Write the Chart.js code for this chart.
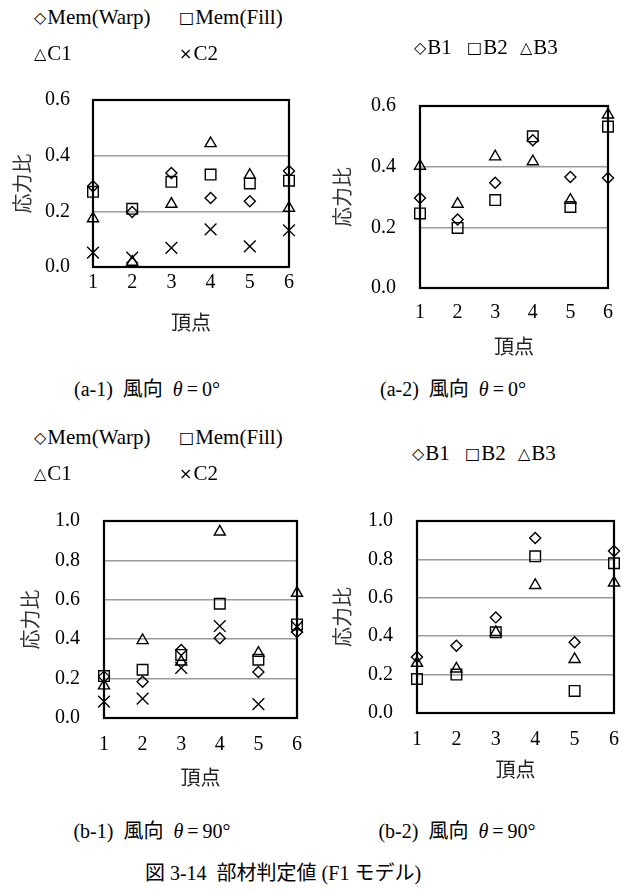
<!DOCTYPE html>
<html><head><meta charset="utf-8">
<script src="https://cdn.jsdelivr.net/npm/chart.js@4.4.0/dist/chart.umd.min.js"></script>
<style>
body{margin:0;width:634px;height:890px;background:#fff;position:relative;overflow:hidden;font-family:'Liberation Serif','Noto Sans CJK JP',serif;color:#000}
canvas{position:absolute}
.t{position:absolute;white-space:pre;font-size:20px;line-height:24px;transform:translate(-50%,-50%)}
.lg{position:absolute;white-space:pre;font-size:21px;line-height:24px;transform:translateY(-50%)}
.sym{font-size:16px;font-family:'DejaVu Sans',sans-serif;vertical-align:1px;margin-right:1px}
</style></head><body>
<canvas id="a1" width="310" height="285" style="left:0;top:65px"></canvas>
<canvas id="a2" width="314" height="295" style="left:320px;top:70px"></canvas>
<canvas id="b1" width="317" height="315" style="left:0;top:485px"></canvas>
<canvas id="b2" width="314" height="315" style="left:320px;top:485px"></canvas>
<div id="texts"></div>
<script>
// ---- data ----
const categories = [1, 2, 3, 4, 5, 6];
const yTicksA = [0, 0.2, 0.4, 0.6];
const yTicksB = [0, 0.2, 0.4, 0.6, 0.8, 1.0];
const xTitle = '頂点';
const yTitle = '応力比';

// (a-1) wind 0°
const a1MemWarp = [0.29, 0.198, 0.338, 0.248, 0.236, 0.345];
const a1MemFill = [0.27, 0.209, 0.306, 0.332, 0.30, 0.31];
const a1C1 = [0.174, 0.018, 0.226, 0.444, 0.33, 0.212];
const a1C2 = [0.052, 0.034, 0.069, 0.135, 0.074, 0.132];
// (a-2) wind 0°
const a2B1 = [0.297, 0.226, 0.347, 0.487, 0.366, 0.363];
const a2B2 = [0.246, 0.198, 0.29, 0.50, 0.267, 0.532];
const a2B3 = [0.402, 0.277, 0.433, 0.417, 0.29, 0.571];
// (b-1) wind 90°
const b1MemWarp = [0.21, 0.184, 0.345, 0.405, 0.234, 0.436];
const b1MemFill = [0.213, 0.245, 0.32, 0.58, 0.296, 0.475];
const b1C1 = [0.164, 0.394, 0.285, 0.945, 0.33, 0.634];
const b1C2 = [0.083, 0.098, 0.254, 0.467, 0.07, 0.463];
// (b-2) wind 90°
const b2B1 = [0.292, 0.35, 0.498, 0.911, 0.368, 0.844];
const b2B2 = [0.177, 0.2, 0.42, 0.816, 0.115, 0.78];
const b2B3 = [0.26, 0.23, 0.42, 0.665, 0.28, 0.678];

const namesMem = ['Mem(Warp)', 'Mem(Fill)', 'C1', 'C2'];
const namesB = ['B1', 'B2', 'B3'];
const captions = ['(a-1)  風向  θ\u2009=\u20090°', '(a-2)  風向  θ\u2009=\u20090°', '(b-1)  風向  θ\u2009=\u200990°', '(b-2)  風向  θ\u2009=\u200990°'];
const figCaption = '図 3-14  部材判定値 (F1 モデル)';

// ---- styles ----
const FONT = "'Liberation Serif','Noto Sans CJK JP',serif";
const marker = {
  diamond: {pointStyle: 'rectRot', pointRadius: 5.5},
  square: {pointStyle: 'rect', pointRadius: 7.5},
  triangle: {pointStyle: 'triangle', pointRadius: 6.4},
  cross: {pointStyle: 'crossRot', pointRadius: 8.3}
};
const symChar = {diamond: '◇', square: '□', triangle: '△', cross: '×'};

function ds(label, arr, m) {
  return Object.assign({
    label,
    data: categories.map((c, i) => ({x: c, y: arr[i]})),
    backgroundColor: 'rgba(0,0,0,0)',
    borderColor: '#000',
    borderWidth: 1.4,
    pointBorderWidth: 1.4,
    clip: false,
    showLine: false
  }, marker[m]);
}

const framePlugin = {
  id: 'frame',
  beforeDatasetsDraw(chart) {
    const a = chart.chartArea, ctx = chart.ctx;
    ctx.save();
    ctx.strokeStyle = '#000';
    ctx.lineWidth = 2.2;
    ctx.strokeRect(a.left, a.top, a.right - a.left, a.bottom - a.top);
    ctx.restore();
  }
};

function makeChart(id, datasets, yTicks, L) {
  const yMax = yTicks[yTicks.length - 1];
  return new Chart(document.getElementById(id), {
    type: 'scatter',
    data: {datasets},
    plugins: [framePlugin],
    options: {
      responsive: false, animation: false, devicePixelRatio: 1,
      layout: {padding: {left: 0, top: L.pt, right: L.pr, bottom: L.pb}},
      plugins: {legend: {display: false}, tooltip: {enabled: false}},
      scales: {
        x: {
          type: 'linear', min: categories[0], max: categories[categories.length - 1],
          afterBuildTicks: s => { s.ticks = categories.map(v => ({value: v})); },
          afterFit: s => { s.height = L.xH; },
          grid: {display: false, drawTicks: false},
          border: {display: false},
          ticks: {padding: L.xTp, color: '#000', font: {family: FONT, size: 20}, callback: v => String(v)},
          title: {display: true, text: xTitle, color: '#222', font: {family: FONT, size: 20}, padding: {top: 0, bottom: 0}}
        },
        y: {
          min: 0, max: yMax,
          afterBuildTicks: s => { s.ticks = yTicks.map(v => ({value: v})); },
          afterFit: s => { s.width = L.yW; },
          grid: {color: '#9a9a9a', lineWidth: 1.6, drawTicks: false},
          border: {display: false},
          ticks: {padding: L.yTp, color: '#000', font: {family: FONT, size: 20}, callback: v => Number(v).toFixed(1)},
          title: {display: true, text: yTitle, color: '#333', font: {family: FONT, size: 20}, padding: {top: L.yTt, bottom: 0}}
        }
      }
    }
  });
}

makeChart('a1', [
  ds(namesMem[0], a1MemWarp, 'diamond'), ds(namesMem[1], a1MemFill, 'square'),
  ds(namesMem[2], a1C1, 'triangle'), ds(namesMem[3], a1C2, 'cross')
], yTicksA, {pt: 20, pr: 21, pb: 13, yW: 93, xH: 70, yTp: 23, xTp: 4, yTt: 13});

makeChart('a2', [
  ds(namesB[0], a2B1, 'diamond'), ds(namesB[1], a2B2, 'square'), ds(namesB[2], a2B3, 'triangle')
], yTicksA, {pt: 23, pr: 26, pb: 4, yW: 100, xH: 73, yTp: 24, xTp: 13, yTt: 13});

makeChart('b1', [
  ds(namesMem[0], b1MemWarp, 'diamond'), ds(namesMem[1], b1MemFill, 'square'),
  ds(namesMem[2], b1C1, 'triangle'), ds(namesMem[3], b1C2, 'cross')
], yTicksB, {pt: 19, pr: 15, pb: 8, yW: 104, xH: 74, yTp: 24, xTp: 15, yTt: 21});

makeChart('b2', [
  ds(namesB[0], b2B1, 'diamond'), ds(namesB[1], b2B2, 'square'), ds(namesB[2], b2B3, 'triangle')
], yTicksB, {pt: 18, pr: 15, pb: 16, yW: 97, xH: 71, yTp: 24, xTp: 15, yTt: 13});

// ---- legends & captions (HTML text) ----
const box = document.getElementById('texts');
function legendItem(sym, name, x, y) {
  const d = document.createElement('div');
  d.className = 'lg';
  d.style.left = x + 'px'; d.style.top = y + 'px';
  const s = document.createElement('span'); s.className = 'sym'; s.textContent = symChar[sym];
  d.appendChild(s); d.appendChild(document.createTextNode(name));
  box.appendChild(d);
}
function caption(text, x, y, size) {
  const d = document.createElement('div');
  d.className = 't';
  d.style.left = x + 'px'; d.style.top = y + 'px';
  if (size) d.style.fontSize = size + 'px';
  d.innerHTML = text.replace('θ', '<i>θ</i>');
  box.appendChild(d);
}
const memSyms = ['diamond', 'square', 'triangle', 'cross'];
const bSyms = ['diamond', 'square', 'triangle'];
[[17, 53], [437, 473]].forEach(([r1, r2]) => {
  legendItem(memSyms[0], namesMem[0], 34, r1);
  legendItem(memSyms[1], namesMem[1], 179, r1);
  legendItem(memSyms[2], namesMem[2], 34, r2);
  legendItem(memSyms[3], namesMem[3], 179, r2);
});
[[414, 47], [412, 453]].forEach(([x0, y]) => {
  const xs = [x0, x0 + 53, x0 + 106];
  bSyms.forEach((s, i) => legendItem(s, namesB[i], xs[i], y));
});
caption(captions[0], 147, 389);
caption(captions[1], 453, 389);
caption(captions[2], 152, 831);
caption(captions[3], 457, 831);
caption(figCaption, 283, 873);
</script>
</body></html>
